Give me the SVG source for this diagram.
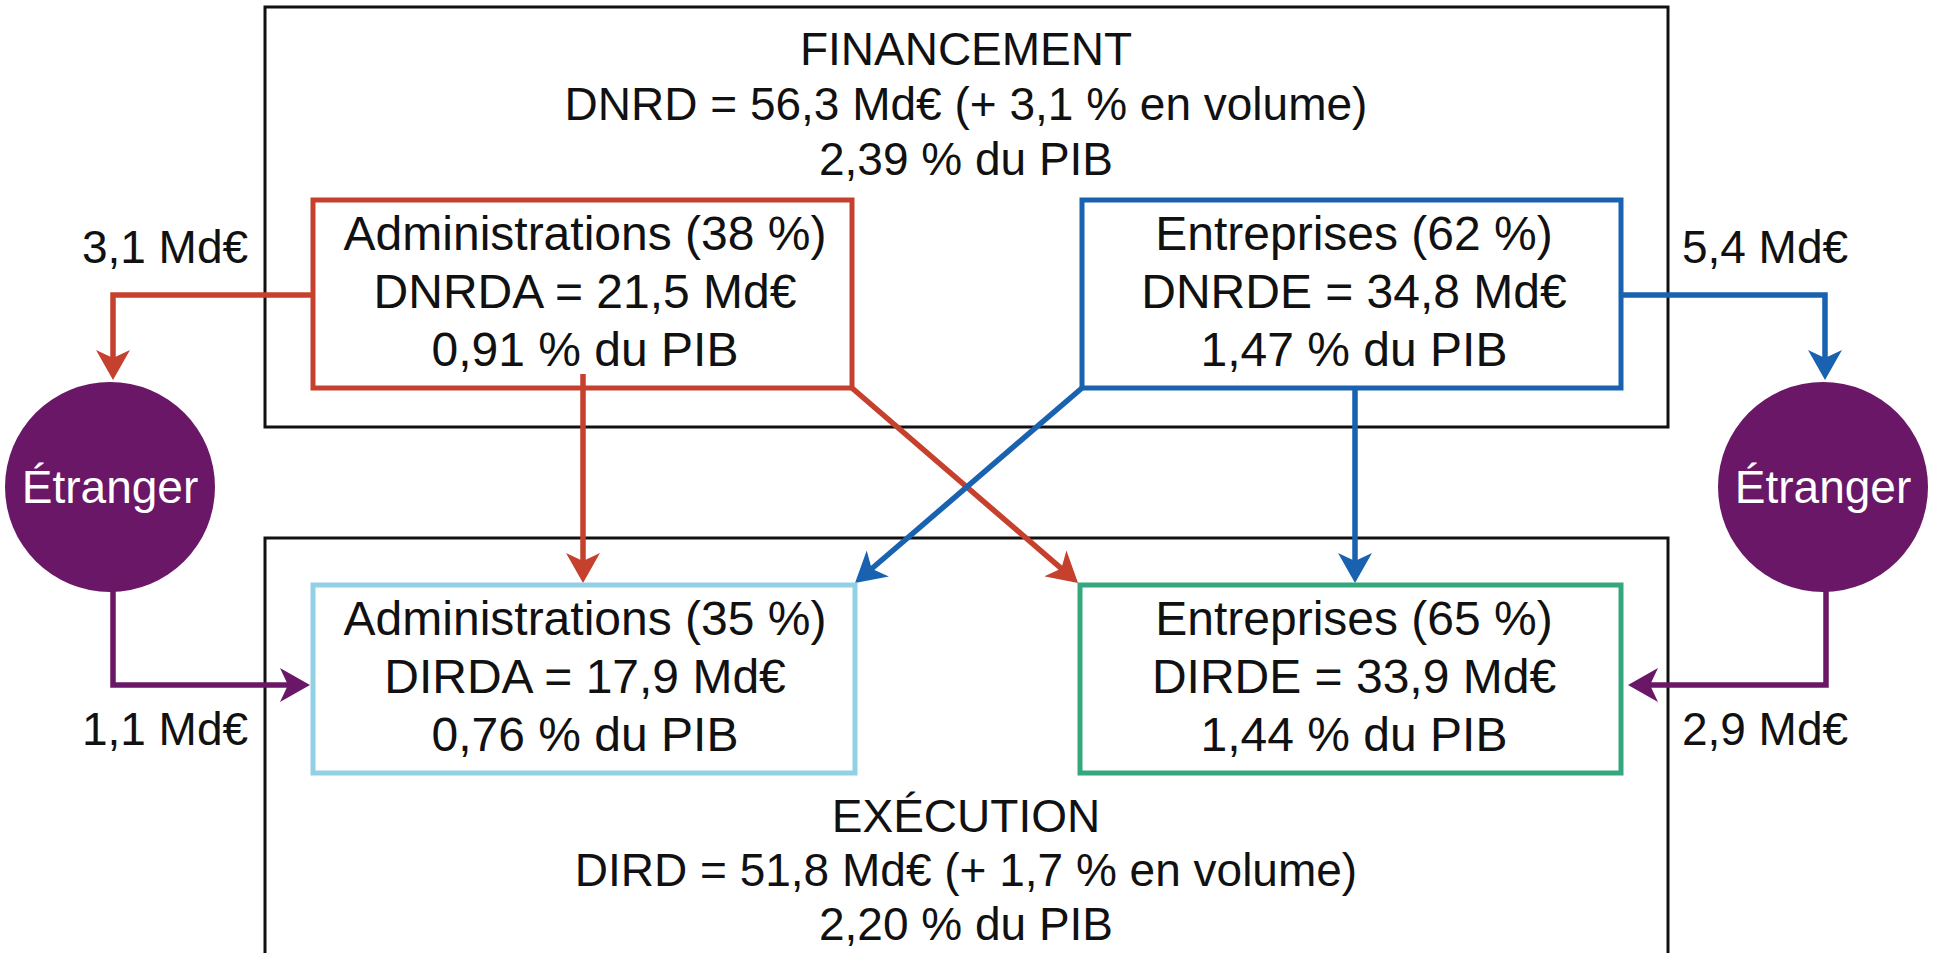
<svg xmlns="http://www.w3.org/2000/svg" width="1933" height="953" viewBox="0 0 1933 953">
<style>
  text { font-family: "Liberation Sans", Arial, sans-serif; fill: #111; text-anchor: middle; }
  .title { font-size: 46px; }
  .node { font-size: 48px; }
  .lbl { font-size: 46px; }
  .circ { font-size: 46px; fill: #ffffff; }
  .frame { fill: none; stroke: #111; stroke-width: 3; }
  .box { fill: #ffffff; stroke-width: 5; }
  .conn { fill: none; stroke-width: 5.5; stroke-linejoin: miter; }
</style>
<defs>
  <marker id="aRed" viewBox="0 0 30 34" refX="10" refY="17" markerWidth="30" markerHeight="34" markerUnits="userSpaceOnUse" orient="auto">
    <path d="M0,0 L30,17 L0,34 L8,17 z" fill="#c5412d"/>
  </marker>
  <marker id="aBlue" viewBox="0 0 30 34" refX="10" refY="17" markerWidth="30" markerHeight="34" markerUnits="userSpaceOnUse" orient="auto">
    <path d="M0,0 L30,17 L0,34 L8,17 z" fill="#1862b0"/>
  </marker>
  <marker id="aPurple" viewBox="0 0 30 34" refX="10" refY="17" markerWidth="30" markerHeight="34" markerUnits="userSpaceOnUse" orient="auto">
    <path d="M0,0 L30,17 L0,34 L8,17 z" fill="#6b1768"/>
  </marker>
</defs>
<rect width="1933" height="953" fill="#ffffff"/>

<g id="financement">
  <rect class="frame" x="265" y="7" width="1403" height="420"/>
  <text class="title" x="966" y="65">FINANCEMENT</text>
  <text class="title" x="966" y="120">DNRD = 56,3 Md€ (+ 3,1 % en volume)</text>
  <text class="title" x="966" y="175">2,39 % du PIB</text>
</g>

<g id="execution">
  <rect class="frame" x="265" y="538" width="1403" height="440"/>
  <text class="title" x="966" y="832">EXÉCUTION</text>
  <text class="title" x="966" y="886">DIRD = 51,8 Md€ (+ 1,7 % en volume)</text>
  <text class="title" x="966" y="940">2,20 % du PIB</text>
</g>

<g id="connectors">
  <path class="conn" stroke="#c5412d" d="M313,295 H113 V360" marker-end="url(#aRed)"/>
  <path class="conn" stroke="#c5412d" d="M583,374 V563" marker-end="url(#aRed)"/>
  <path class="conn" stroke="#c5412d" d="M852,388 L1062.9,569.9" marker-end="url(#aRed)"/>
  <path class="conn" stroke="#1862b0" d="M1082,388 L870.2,570" marker-end="url(#aBlue)"/>
  <path class="conn" stroke="#1862b0" d="M1355,388 V563" marker-end="url(#aBlue)"/>
  <path class="conn" stroke="#1862b0" d="M1621,295 H1825 V360" marker-end="url(#aBlue)"/>
  <path class="conn" stroke="#6b1768" d="M113,590 V685 H290" marker-end="url(#aPurple)"/>
  <path class="conn" stroke="#6b1768" d="M1826,590 V685 H1648" marker-end="url(#aPurple)"/>
</g>

<g id="fin-admin">
  <rect class="box" stroke="#c5412d" x="313" y="200" width="539" height="188" fill="none" style="fill:none"/>
  <text class="node" x="585" y="250">Administrations (38 %)</text>
  <text class="node" x="585" y="308">DNRDA = 21,5 Md€</text>
  <text class="node" x="585" y="366">0,91 % du PIB</text>
</g>

<g id="fin-entr">
  <rect class="box" stroke="#1862b0" x="1082" y="200" width="539" height="188" style="fill:none"/>
  <text class="node" x="1354" y="250">Entreprises (62 %)</text>
  <text class="node" x="1354" y="308">DNRDE = 34,8 Md€</text>
  <text class="node" x="1354" y="366">1,47 % du PIB</text>
</g>

<g id="exe-admin">
  <rect class="box" stroke="#92d0e5" x="313" y="585" width="542" height="188" style="fill:none"/>
  <text class="node" x="585" y="635">Administrations (35 %)</text>
  <text class="node" x="585" y="693">DIRDA = 17,9 Md€</text>
  <text class="node" x="585" y="751">0,76 % du PIB</text>
</g>

<g id="exe-entr">
  <rect class="box" stroke="#34a77c" x="1080" y="585" width="541" height="188" style="fill:none"/>
  <text class="node" x="1354" y="635">Entreprises (65 %)</text>
  <text class="node" x="1354" y="693">DIRDE = 33,9 Md€</text>
  <text class="node" x="1354" y="751">1,44 % du PIB</text>
</g>

<g id="etranger-left">
  <circle cx="110" cy="487" r="105" fill="#6b1768"/>
  <text class="circ" x="110" y="503">Étranger</text>
</g>

<g id="etranger-right">
  <circle cx="1823" cy="487" r="105" fill="#6b1768"/>
  <text class="circ" x="1823" y="503">Étranger</text>
</g>

<g id="labels">
  <text class="lbl" x="165" y="263">3,1 Md€</text>
  <text class="lbl" x="1765" y="263">5,4 Md€</text>
  <text class="lbl" x="165" y="745">1,1 Md€</text>
  <text class="lbl" x="1765" y="745">2,9 Md€</text>
</g>
</svg>
